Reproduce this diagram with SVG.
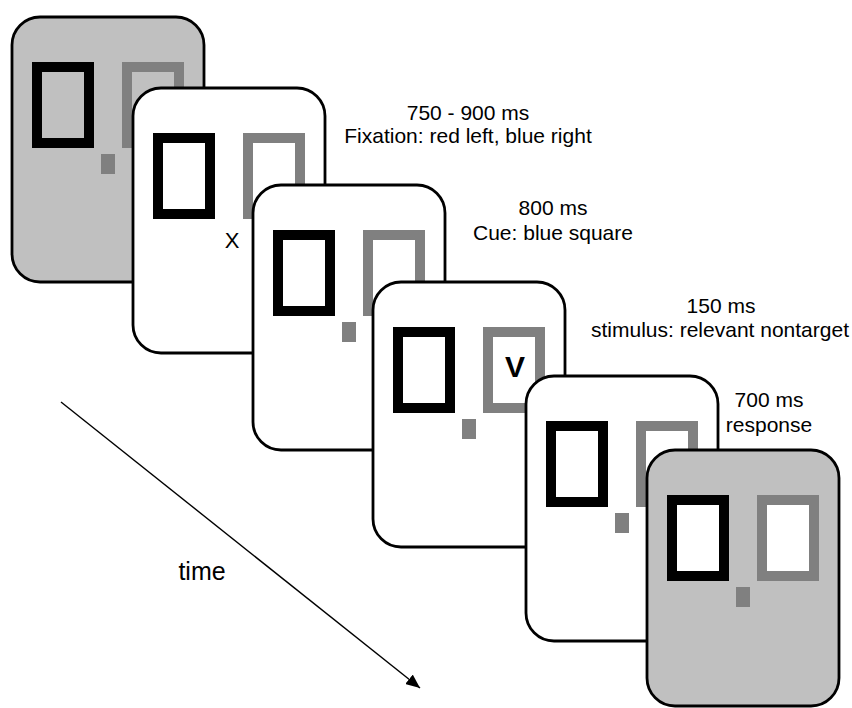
<svg xmlns="http://www.w3.org/2000/svg" width="852" height="708" viewBox="0 0 852 708">
<style>
.card{stroke:#000;stroke-width:2.8}
.white{fill:#fff}
.grey{fill:#c0c0c0}
.bsq{fill:none;stroke:#000;stroke-width:10}
.gsq{fill:none;stroke:#808080;stroke-width:10}
.dot{fill:#808080}
.lbl{font-family:"Liberation Sans",Arial,sans-serif;font-size:21px;fill:#000;text-anchor:middle}
</style>
<defs>
<marker id="ah" viewBox="0 0 14 12" refX="14" refY="6" markerWidth="14" markerHeight="12" markerUnits="userSpaceOnUse" orient="auto">
<path d="M0,0 L14,6 L0,12 Z" fill="#000"/>
</marker>
</defs>
<rect width="852" height="708" fill="#fff"/>
<g id="connectors">
<line x1="61" y1="402" x2="420" y2="688" stroke="#000" stroke-width="1.4" marker-end="url(#ah)"/>
</g>
<text class="lbl" x="202" y="580" style="font-size:25px">time</text>
<g id="card1" transform="translate(12,17)">
<rect class="card grey" width="192" height="265" rx="28"/>
<rect class="bsq" x="25" y="50" width="52" height="76"/>
<rect class="gsq" x="115" y="50" width="52" height="76"/>
<rect class="dot" x="89" y="137" width="14" height="20"/>
</g>
<g id="card2" transform="translate(133,88)">
<rect class="card white" width="192" height="265" rx="28"/>
<rect class="bsq" x="25" y="50" width="52" height="76"/>
<rect class="gsq" x="115" y="50" width="52" height="76"/>
<text class="lbl" x="99" y="160" style="font-size:22px">X</text>
</g>
<g id="card3" transform="translate(253,185)">
<rect class="card white" width="192" height="265" rx="28"/>
<rect class="bsq" x="25" y="50" width="52" height="76"/>
<rect class="gsq" x="115" y="50" width="52" height="76"/>
<rect class="dot" x="89" y="137" width="14" height="20"/>
</g>
<g id="card4" transform="translate(373,282)">
<rect class="card white" width="192" height="265" rx="28"/>
<rect class="bsq" x="25" y="50" width="52" height="76"/>
<rect class="gsq" x="115" y="50" width="52" height="76"/>
<rect class="dot" x="89" y="137" width="14" height="20"/>
<text class="lbl" x="142" y="95" style="font-size:30px;font-weight:bold">V</text>
</g>
<g id="card5" transform="translate(526,376)">
<rect class="card white" width="192" height="265" rx="28"/>
<rect class="bsq" x="25" y="50" width="52" height="76"/>
<rect class="gsq" x="115" y="50" width="52" height="76"/>
<rect class="dot" x="89" y="137" width="14" height="20"/>
</g>
<g id="card6" transform="translate(647,450)">
<rect class="card grey" width="192" height="256" rx="28"/>
<rect class="bsq" x="25" y="50" width="52" height="76" style="fill:#fff"/>
<rect class="gsq" x="115" y="50" width="52" height="76" style="fill:#fff"/>
<rect class="dot" x="89" y="137" width="14" height="20"/>
</g>
<g id="labels">
<text class="lbl" x="468" y="120">750 - 900 ms</text>
<text class="lbl" x="468" y="143">Fixation: red left, blue right</text>
<text class="lbl" x="553" y="215">800 ms</text>
<text class="lbl" x="553" y="240">Cue: blue square</text>
<text class="lbl" x="721" y="313">150 ms</text>
<text class="lbl" x="720" y="337">stimulus: relevant nontarget</text>
<text class="lbl" x="769" y="407">700 ms</text>
<text class="lbl" x="769" y="432">response</text>
</g>
</svg>
